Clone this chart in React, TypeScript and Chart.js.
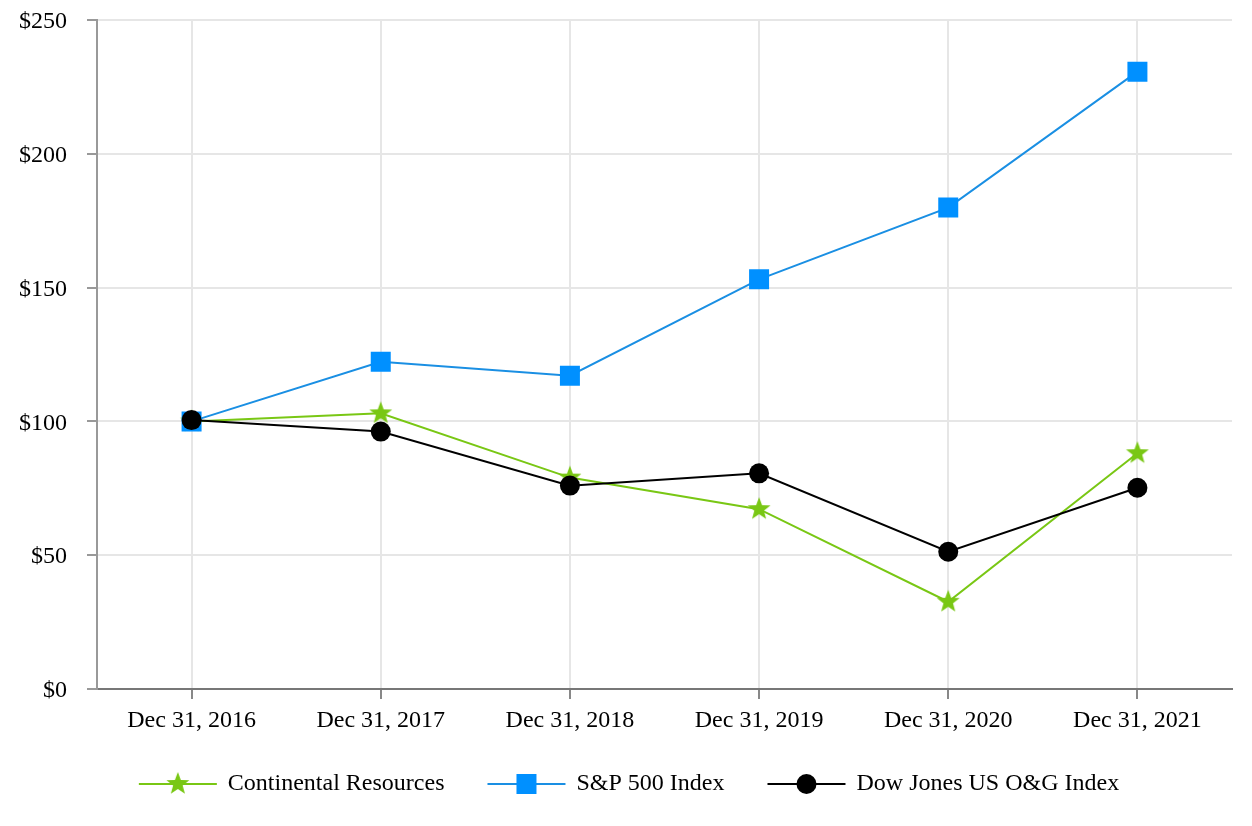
import React, { useEffect, useRef } from 'react';
import { Chart, registerables } from 'chart.js';

Chart.register(...registerables);

const categories = ['Dec 31, 2016', 'Dec 31, 2017', 'Dec 31, 2018', 'Dec 31, 2019', 'Dec 31, 2020', 'Dec 31, 2021'];
const continental = [100, 103, 79, 67.2, 32.6, 88.1];
const sp500 = [100, 122.3, 117.1, 153.1, 179.9, 230.7];
const dowJones = [100.5, 96.2, 76, 80.6, 51.3, 75.2];
const seriesNames = ['Continental Resources', 'S&P 500 Index', 'Dow Jones US O&G Index'];
const yMin = 0;
const yMax = 250;
const yStep = 50;

const GREEN = '#79c714';
const BLUE_LINE = '#1a8fe3';
const BLUE_MARK = '#0090ff';
const BLACK = '#000000';
const FONT = '"Liberation Serif", "Times New Roman", serif';

function makeStar(color: string, outer: number): HTMLCanvasElement {
  const size = Math.ceil(outer * 2 + 2);
  const c = document.createElement('canvas');
  c.width = size;
  c.height = size;
  const ctx = c.getContext('2d')!;
  const cx = size / 2;
  const cy = size / 2;
  const inner = outer * 0.42;
  ctx.beginPath();
  for (let i = 0; i < 10; i++) {
    const r = i % 2 === 0 ? outer : inner;
    const a = -Math.PI / 2 + (i * Math.PI) / 5;
    const x = cx + r * Math.cos(a);
    const y = cy + r * Math.sin(a);
    if (i === 0) ctx.moveTo(x, y);
    else ctx.lineTo(x, y);
  }
  ctx.closePath();
  ctx.fillStyle = color;
  ctx.fill();
  return c;
}

export default function App() {
  const ref = useRef<HTMLCanvasElement | null>(null);

  useEffect(() => {
    if (!ref.current) return;
    const star = makeStar(GREEN, 12);

    const legendPlugin = {
      id: 'customLegend',
      afterDraw(chart: any) {
        const ctx = chart.ctx as CanvasRenderingContext2D;
        ctx.save();
        ctx.font = `24px ${FONT}`;
        const lineW = 78;
        const gap = 11;
        const itemGap = 43;
        const widths = seriesNames.map((n) => lineW + gap + ctx.measureText(n).width);
        const total = widths.reduce((a, b) => a + b, 0) + itemGap * (widths.length - 1);
        let x = (chart.width - total) / 2 + 3;
        const y = chart.height - 42;
        const colors = [GREEN, BLUE_LINE, BLACK];
        seriesNames.forEach((name, i) => {
          ctx.strokeStyle = colors[i];
          ctx.lineWidth = 2;
          ctx.beginPath();
          ctx.moveTo(x, y);
          ctx.lineTo(x + lineW, y);
          ctx.stroke();
          const mx = x + lineW / 2;
          if (i === 0) {
            ctx.drawImage(star, mx - star.width / 2, y - star.height / 2);
          } else if (i === 1) {
            ctx.fillStyle = BLUE_MARK;
            ctx.fillRect(mx - 10, y - 10, 20, 20);
          } else {
            ctx.fillStyle = BLACK;
            ctx.beginPath();
            ctx.arc(mx, y, 10, 0, Math.PI * 2);
            ctx.fill();
          }
          ctx.fillStyle = '#000';
          ctx.textBaseline = 'middle';
          ctx.textAlign = 'left';
          ctx.fillText(name, x + lineW + gap, y);
          x += widths[i] + itemGap;
        });
        ctx.restore();
      },
    };

    const chart = new Chart(ref.current, {
      type: 'line',
      data: {
        labels: categories,
        datasets: [
          {
            label: seriesNames[0],
            data: continental,
            borderColor: GREEN,
            backgroundColor: GREEN,
            borderWidth: 2,
            pointStyle: star as any,
            pointRadius: 11,
            tension: 0,
            order: 3,
          },
          {
            label: seriesNames[1],
            data: sp500,
            borderColor: BLUE_LINE,
            backgroundColor: BLUE_MARK,
            pointBackgroundColor: BLUE_MARK,
            pointBorderColor: BLUE_MARK,
            pointBorderWidth: 0,
            borderWidth: 2,
            pointStyle: 'rect',
            pointRadius: 14.14,
            tension: 0,
            order: 2,
          },
          {
            label: seriesNames[2],
            data: dowJones,
            borderColor: BLACK,
            backgroundColor: BLACK,
            pointBackgroundColor: BLACK,
            pointBorderColor: BLACK,
            pointBorderWidth: 0,
            borderWidth: 2,
            pointStyle: 'circle',
            pointRadius: 10,
            tension: 0,
            order: 1,
          },
        ],
      },
      options: {
        animation: false,
        responsive: true,
        maintainAspectRatio: false,
        layout: { padding: { left: 0, right: 20, top: 20, bottom: 77 } },
        plugins: {
          legend: { display: false },
          tooltip: { enabled: false },
        },
        scales: {
          x: {
            offset: true,
            grid: {
              offset: false,
              color: '#e6e6e6',
              lineWidth: 2,
              drawTicks: true,
              tickLength: 10,
              tickColor: '#888',
              tickWidth: 2,
            },
            border: { display: true, color: '#777', width: 2 },
            ticks: {
              color: '#000',
              font: { family: FONT, size: 24 },
              padding: 7,
              maxRotation: 0,
            },
            afterFit: (scale: any) => {
              scale.height = 60;
              scale.paddingLeft = 0;
              scale.paddingRight = 0;
            },
          },
          y: {
            min: yMin,
            max: yMax,
            grid: {
              color: '#e6e6e6',
              lineWidth: 2,
              drawTicks: true,
              tickLength: 10,
              tickColor: '#999',
              tickWidth: 2,
            },
            border: { display: true, color: '#999', width: 2 },
            ticks: {
              stepSize: yStep,
              color: '#000',
              font: { family: FONT, size: 24 },
              padding: 20,
              labelOffset: 2,
              callback: (v: any) => '$' + v,
            },
            afterFit: (scale: any) => {
              scale.width = 97;
              scale.paddingTop = 0;
              scale.paddingBottom = 0;
            },
          },
        },
      },
      plugins: [legendPlugin],
    });
    return () => chart.destroy();
  }, []);

  return (
    <div style={{ position: 'absolute', left: 0, top: 0, width: 1252, height: 826, background: '#fff' }}>
      <canvas ref={ref} />
    </div>
  );
}
